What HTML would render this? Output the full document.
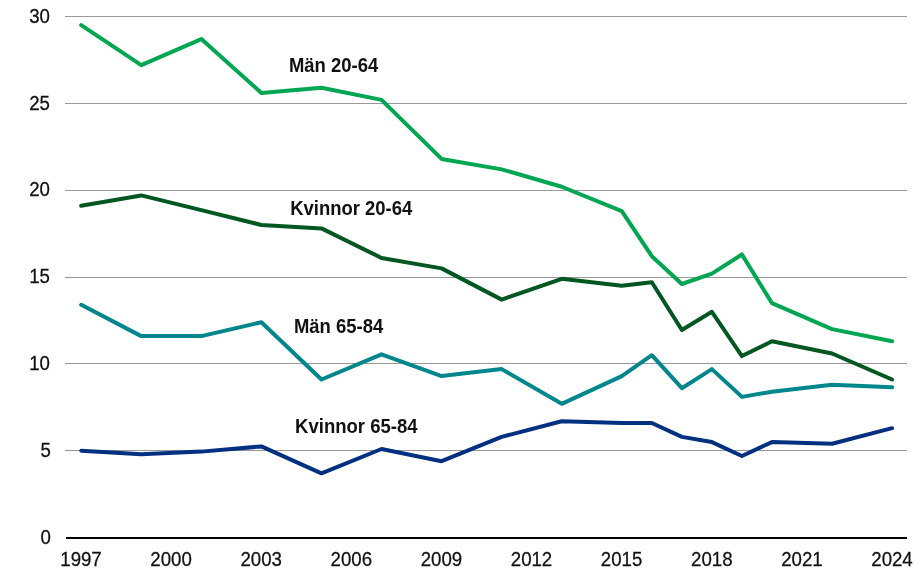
<!DOCTYPE html>
<html lang="sv"><head><meta charset="utf-8"><title>Diagram</title>
<style>
html,body{margin:0;padding:0;background:#fff;}
body{width:920px;height:579px;overflow:hidden;}
svg{display:block;}
text{font-family:"Liberation Sans",Arial,sans-serif;font-size:18.67px;fill:#111111;}
.lbl text{font-weight:bold;}
.ax text{stroke:#111111;stroke-width:0.25px;}
.ln{fill:none;stroke-width:4;stroke-linecap:round;stroke-linejoin:round;}
</style></head><body>
<svg width="920" height="579" viewBox="0 0 920 579">
<rect width="920" height="579" fill="#ffffff"/>
<g shape-rendering="crispEdges" fill="#999999">
<rect x="65" y="16" width="842" height="1"/>
<rect x="65" y="103" width="842" height="1"/>
<rect x="65" y="190" width="842" height="1"/>
<rect x="65" y="277" width="842" height="1"/>
<rect x="65" y="363" width="842" height="1"/>
<rect x="65" y="450" width="842" height="1"/>
</g>
<rect x="66" y="537" width="841" height="2" fill="#000" shape-rendering="crispEdges"/>
<polyline class="ln" stroke="#00307f" points="81.20,450.75 141.27,454.22 201.33,451.62 261.40,446.41 321.46,473.33 381.53,449.01 441.60,461.17 501.66,436.85 561.73,421.22 621.79,422.96 651.83,422.96 681.86,436.85 711.89,442.06 741.93,455.96 771.96,442.06 832.03,443.80 892.09,428.17"/>
<polyline class="ln" stroke="#00868c" points="81.20,304.84 141.27,336.11 201.33,336.11 261.40,322.21 321.46,379.53 381.53,354.35 441.60,376.06 501.66,369.11 561.73,403.85 621.79,376.06 651.83,355.22 681.86,388.22 711.89,369.11 741.93,396.90 771.96,391.69 832.03,384.74 892.09,387.35"/>
<polyline class="ln" stroke="#00571f" points="81.20,205.83 141.27,195.41 201.33,210.18 261.40,224.94 321.46,228.41 381.53,257.94 441.60,268.37 501.66,299.63 561.73,278.79 621.79,285.74 651.83,282.26 681.86,330.03 711.89,311.79 741.93,356.08 771.96,341.32 832.03,353.48 892.09,379.53"/>
<polyline class="ln" stroke="#00a651" points="81.20,25.18 141.27,65.14 201.33,39.08 261.40,92.93 321.46,87.72 381.53,99.88 441.60,158.93 501.66,169.36 561.73,186.73 621.79,211.04 651.83,256.21 681.86,284.00 711.89,273.58 741.93,254.47 771.96,303.11 832.03,329.16 892.09,341.32"/>
<g class="ax" text-anchor="end">
<text transform="translate(49.9,23) scale(1,1.06)">30</text>
<text transform="translate(49.9,110) scale(1,1.06)">25</text>
<text transform="translate(49.9,196) scale(1,1.06)">20</text>
<text transform="translate(49.9,283) scale(1,1.06)">15</text>
<text transform="translate(49.9,370) scale(1,1.06)">10</text>
<text transform="translate(51,457) scale(1,1.06)">5</text>
<text transform="translate(51,544) scale(1,1.06)">0</text>
</g>
<g class="ax" text-anchor="middle">
<text transform="translate(81.0,566) scale(1,1.06)">1997</text>
<text transform="translate(171.1,566) scale(1,1.06)">2000</text>
<text transform="translate(261.2,566) scale(1,1.06)">2003</text>
<text transform="translate(351.3,566) scale(1,1.06)">2006</text>
<text transform="translate(441.4,566) scale(1,1.06)">2009</text>
<text transform="translate(531.5,566) scale(1,1.06)">2012</text>
<text transform="translate(621.6,566) scale(1,1.06)">2015</text>
<text transform="translate(711.8,566) scale(1,1.06)">2018</text>
<text transform="translate(801.9,566) scale(1,1.06)">2021</text>
<text transform="translate(892.0,566) scale(1,1.06)">2024</text>
</g>
<g class="lbl">
<text transform="translate(288.9,72) scale(0.99,1.06)">Män 20-64</text>
<text transform="translate(290.2,215) scale(0.99,1.06)">Kvinnor 20-64</text>
<text transform="translate(293.9,333) scale(0.99,1.06)">Män 65-84</text>
<text transform="translate(295.1,433) scale(0.992,1.06)">Kvinnor 65-84</text>
</g>
</svg></body></html>
